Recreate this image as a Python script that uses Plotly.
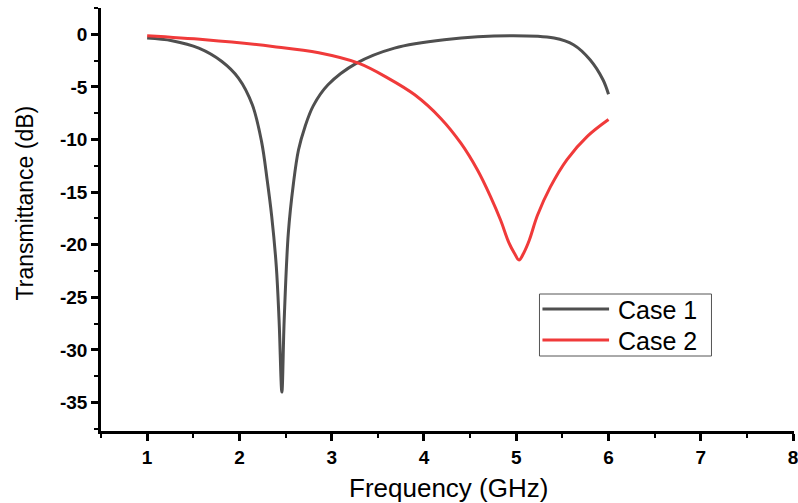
import plotly.graph_objects as go

# Transmittance spectra (frequency in GHz, transmittance in dB)
freq_case1 = [1.00, 1.27, 1.56, 1.81, 1.99, 2.14, 2.24, 2.30, 2.35, 2.40, 2.43, 2.46,
              2.485, 2.53, 2.585, 2.64, 2.71, 2.80, 2.96, 3.27, 3.68, 4.22, 4.94,
              5.41, 5.62, 5.80, 5.94, 6.00]
trans_case1 = [-0.36, -0.61, -1.31, -2.58, -4.16, -6.7, -10.2, -13.8, -17.3, -22.1, -27.2, -34.0,
               -27.2, -18.9, -14.2, -11.0, -8.8, -6.8, -4.8, -2.74, -1.31, -0.52, -0.14,
               -0.36, -0.99, -2.42, -4.32, -5.7]

freq_case2 = [1.00, 1.63, 2.36, 2.86, 3.29, 3.61, 3.90, 4.18, 4.40, 4.58, 4.72, 4.83,
              4.92, 4.98, 5.03, 5.08, 5.14, 5.23, 5.37, 5.55, 5.77, 6.00]
trans_case2 = [-0.14, -0.52, -1.15, -1.75, -2.74, -4.16, -5.75, -7.97, -10.35, -12.9, -15.4, -17.65,
               -19.8, -20.8, -21.45, -20.8, -19.6, -17.2, -14.5, -11.9, -9.7, -8.1]

series_names = ["Case 1", "Case 2"]
series_colors = ["#4f4f4f", "#f03a3a"]
x_title = "Frequency (GHz)"
y_title = "Transmittance (dB)"

x_tickvals = [1, 2, 3, 4, 5, 6, 7, 8]
x_ticktext = ["1", "2", "3", "4", "5", "6", "7", "8"]
y_tickvals = [0, -5, -10, -15, -20, -25, -30, -35]
y_ticktext = ["0", "-5", "-10", "-15", "-20", "-25", "-30", "-35"]

FONT = "Liberation Sans, Arial, sans-serif"

fig = go.Figure()
for xs, ys, name, color in [(freq_case1, trans_case1, series_names[0], series_colors[0]),
                            (freq_case2, trans_case2, series_names[1], series_colors[1])]:
    fig.add_trace(go.Scatter(x=xs, y=ys, mode="lines", name=name, showlegend=False,
                             line=dict(color=color, width=3, shape="spline", smoothing=1.0)))

axis_common = dict(
    showline=True, linecolor="black", linewidth=2.5, mirror=False,
    ticks="outside", ticklen=7, tickwidth=2.5, tickcolor="black",
    showgrid=False, zeroline=False,
    tickfont=dict(family=FONT, size=19, color="black", weight="bold"),
)

fig.update_xaxes(range=[0.5, 8.01], tickmode="array", tickvals=x_tickvals, ticktext=x_ticktext,
                 ticklabeloverflow="allow",
                 minor=dict(dtick=0.5, tick0=0, ticks="outside", ticklen=4, tickwidth=2,
                            tickcolor="black"),
                 **axis_common)
fig.update_yaxes(range=[-37.7, 2.5], tickmode="array", tickvals=y_tickvals, ticktext=y_ticktext,
                 minor=dict(dtick=2.5, tick0=0, ticks="outside", ticklen=4, tickwidth=2,
                            tickcolor="black"),
                 **axis_common)

# Axis titles
fig.add_annotation(text=x_title, xref="paper", yref="paper", x=0.502, y=-0.135,
                   xanchor="center", yanchor="middle", showarrow=False,
                   font=dict(family=FONT, size=26, color="black"))
fig.add_annotation(text=y_title, xref="paper", yref="paper", x=-0.109, y=0.539,
                   xanchor="center", yanchor="middle", showarrow=False, textangle=-90,
                   font=dict(family=FONT, size=23, color="black"))

# Legend box with long line samples
PLOT_L, PLOT_W, PLOT_B, PLOT_H = 101, 697, 431, 423


def px(xp):
    return (xp - PLOT_L) / PLOT_W


def py(yp):
    return (PLOT_B - yp) / PLOT_H


fig.add_shape(type="rect", xref="paper", yref="paper",
              x0=px(542), x1=px(715), y0=py(356), y1=py(294),
              line=dict(color="#555555", width=1), fillcolor="white", layer="above")
for i, (name, color) in enumerate(zip(series_names, series_colors)):
    row_y = 309 + 31 * i
    fig.add_shape(type="line", xref="paper", yref="paper",
                  x0=px(545), x1=px(612), y0=py(row_y), y1=py(row_y),
                  line=dict(color=color, width=3), layer="above")
    fig.add_annotation(text=name, xref="paper", yref="paper", x=px(619), y=py(row_y + 1),
                       xanchor="left", yanchor="middle", showarrow=False,
                       font=dict(family=FONT, size=25, color="black"))

fig.update_layout(
    width=798, height=503,
    margin=dict(l=101, r=0, t=8, b=72),
    plot_bgcolor="white", paper_bgcolor="white",
    showlegend=False,
)

fig.write_html("out.html")
